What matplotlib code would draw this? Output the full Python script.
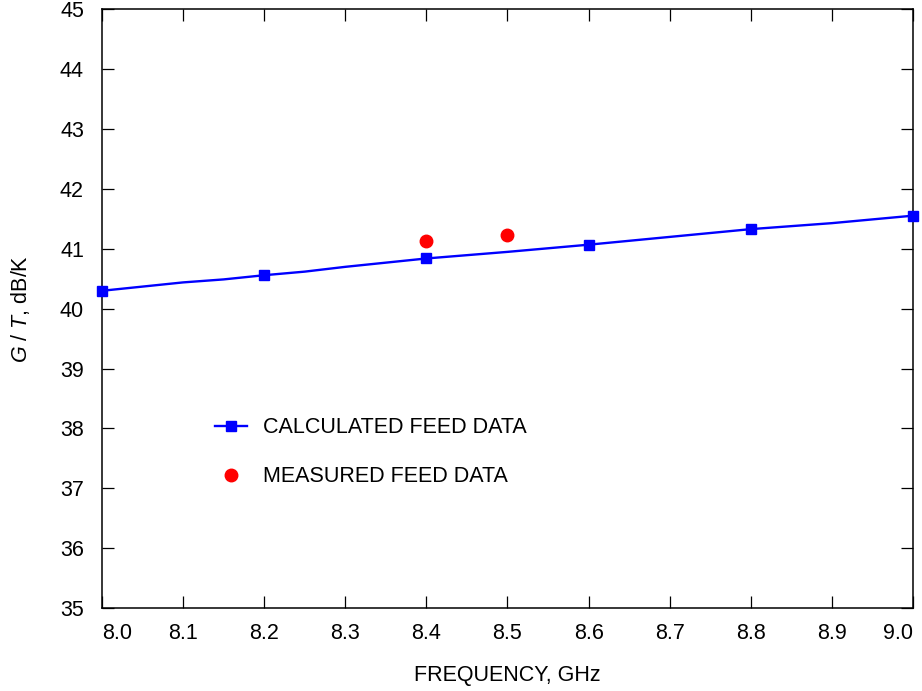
"""G/T versus frequency: calculated feed curve with measured points."""

import matplotlib

matplotlib.use("Agg")

from matplotlib import pyplot as plt

# calculated feed G/T, dB/K
calc_freq_ghz = [8.0, 8.1, 8.15, 8.2, 8.25, 8.3, 8.4, 8.5, 8.6, 8.7, 8.8, 8.9, 9.0]
calc_gt_db = [40.30, 40.44, 40.49, 40.56, 40.62, 40.70, 40.84, 40.95, 41.07, 41.20, 41.33, 41.43, 41.555]
calc_marker_freq = [8.0, 8.2, 8.4, 8.6, 8.8, 9.0]

# measured feed G/T, dB/K
meas_freq_ghz = [8.4, 8.5]
meas_gt_db = [41.13, 41.23]

x_ticks = [8.0, 8.1, 8.2, 8.3, 8.4, 8.5, 8.6, 8.7, 8.8, 8.9, 9.0]
y_ticks = list(range(35, 46))

FONT_SIZE = 15.5

plt.rcParams["font.family"] = ["Liberation Sans", "DejaVu Sans"]
plt.rcParams["mathtext.fontset"] = "custom"
plt.rcParams["mathtext.rm"] = "Liberation Sans"
plt.rcParams["mathtext.it"] = "Liberation Sans:italic"

fig = plt.figure(figsize=(9.22, 6.91), dpi=100)
ax = fig.add_axes([0.1106, 0.1201, 0.8796, 0.8662])

marker_idx = [calc_freq_ghz.index(f) for f in calc_marker_freq]
ax.plot(calc_freq_ghz, calc_gt_db, color="#0000ff", linewidth=1.7,
        marker="s", markersize=6.5, markevery=marker_idx,
        label="CALCULATED FEED DATA", clip_on=False, zorder=3)
ax.plot(meas_freq_ghz, meas_gt_db, linestyle="none", marker="o",
        markersize=9, color="#ff0000", label="MEASURED FEED DATA", zorder=3)

ax.set_xlim(8.0, 9.0)
ax.set_ylim(35, 45)
ax.set_xticks(x_ticks)
ax.set_xticklabels([f"{t:.1f}" for t in x_ticks])
ax.set_yticks(y_ticks)

# keep the end labels inside the frame
xlabels = ax.get_xticklabels()
xlabels[0].set_horizontalalignment("left")
xlabels[-1].set_horizontalalignment("right")

for spine in ax.spines.values():
    spine.set_linewidth(1.1)
ax.tick_params(direction="in", length=8.6, width=0.9, labelsize=FONT_SIZE,
               top=True, right=True)
ax.tick_params(axis="x", pad=11)
ax.tick_params(axis="y", pad=13)

ax.set_xlabel("FREQUENCY, GHz", fontsize=FONT_SIZE, labelpad=15)
ax.set_ylabel("$G$ / $T$, dB/K", fontsize=FONT_SIZE, labelpad=20)

ax.legend(loc="center left", bbox_to_anchor=(0.139, 0.26), frameon=False,
          fontsize=FONT_SIZE, handlelength=1.5, handletextpad=0.75,
          labelspacing=1.3, borderpad=0, borderaxespad=0)

fig.savefig("out.png", dpi=100)
